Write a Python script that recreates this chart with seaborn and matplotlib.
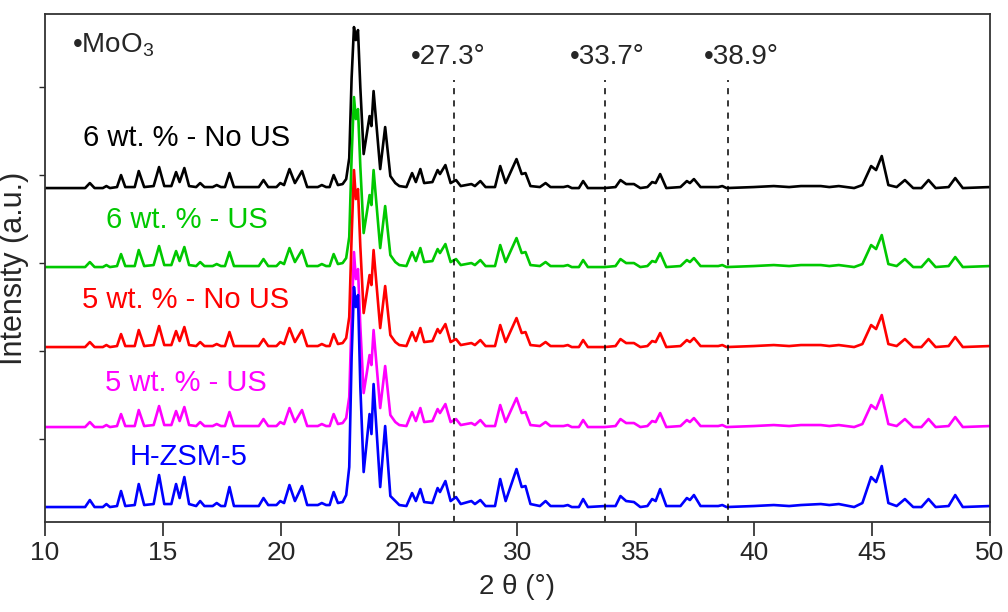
import matplotlib
matplotlib.use("Agg")
import matplotlib.pyplot as plt
import numpy as np
import pandas as pd
import seaborn as sns

# 2 theta positions of the points (peak tops and feet)
two_theta = [10.0, 11.7, 11.9, 12.1, 12.45, 12.6, 12.75, 13.05, 13.22, 13.4,
             13.8, 13.97, 14.2, 14.6, 14.83, 15.05, 15.35, 15.55, 15.7, 15.9,
             16.1, 16.4, 16.57, 16.75, 17.1, 17.27, 17.45, 17.62, 17.81, 18.0,
             19.05, 19.25, 19.45, 19.8, 19.96, 20.12, 20.35, 20.58, 20.88, 21.1,
             21.55, 21.72, 21.9, 22.05, 22.22, 22.4, 22.6, 22.75, 22.88, 22.98,
             23.08, 23.16, 23.25, 23.35, 23.49, 23.74, 23.82, 23.91, 24.19, 24.4,
             24.62, 24.83, 25.0, 25.3, 25.54, 25.7, 25.89, 26.05, 26.4, 26.62,
             26.72, 26.95, 27.17, 27.4, 27.6, 28.05, 28.2, 28.43, 28.65, 29.05,
             29.27, 29.5, 29.96, 30.18, 30.34, 30.55, 30.95, 31.19, 31.4, 31.95,
             32.13, 32.3, 32.6, 32.78, 32.98, 33.7, 34.15, 34.36, 34.6, 34.93,
             35.2, 35.5, 35.7, 35.85, 36.04, 36.3, 36.9, 37.17, 37.3, 37.47,
             37.75, 38.5, 38.67, 38.85, 40.0, 40.85, 41.5, 42.0, 42.84, 43.2,
             43.6, 44.25, 44.6, 44.97, 45.18, 45.42, 45.7, 46.05, 46.4, 46.75,
             47.1, 47.4, 47.7, 48.25, 48.53, 48.85, 50.0]

# parent zeolite
hzsm5 = [0, 0, 7, 0, 0, 3, 0, 1, 16, 1,
         2, 23, 2, 3, 32, 3, 3, 23, 9, 30,
         3, 1, 6, 1, 1, 4, 1, 1, 20, 1,
         1, 9, 2, 2, 6, 4, 22, 6, 21, 2,
         2, 4, 2, 2, 15, 4, 5, 12, 40, 150,
         220, 200, 212, 120, 35, 93, 73, 123, 20, 81,
         11, 6, 2, 1, 14, 6, 18, 5, 4, 19,
         15, 26, 6, 10, 3, 6, 3, 7, 1, 1,
         28, 6, 38, 20, 21, 3, 1, 6, 1, 1,
         2, 0, 0, 8, 0, 1, 1, 11, 6, 5,
         0, 1, 8, 6, 18, 1, 1, 9, 7, 12,
         1, 1, 2, 0, 1, 2, 1, 2, 3, 2,
         3, 0, 4, 30, 25, 41, 4, 1, 8, 0,
         0, 8, 0, 1, 12, 0, 1]

# MoO3 loaded samples, same pattern within reading precision
loaded = [0, 0, 5, 0, 0, 2, 0, 1, 13, 1,
          1, 17, 1, 2, 21, 2, 2, 16, 6, 20,
          2, 1, 5, 1, 1, 3, 1, 1, 15, 1,
          1, 8, 1, 1, 5, 3, 19, 5, 17, 1,
          1, 3, 1, 1, 13, 3, 4, 9, 30, 110,
          161, 148, 158, 100, 34, 72, 62, 97, 19, 61,
          12, 5, 2, 1, 15, 6, 19, 5, 6, 18,
          14, 23, 5, 8, 2, 4, 2, 7, 1, 1,
          22, 5, 29, 14, 15, 2, 1, 5, 1, 1,
          2, 0, 0, 7, 0, 0, 1, 8, 4, 4,
          0, 1, 6, 5, 14, 0, 1, 7, 5, 9,
          1, 1, 2, 0, 1, 2, 1, 2, 2, 1,
          2, 0, 3, 22, 18, 32, 3, 1, 8, 0,
          0, 8, 0, 1, 10, 0, 1]

# height of the strongest reflection (23.1°) for each loaded sample
main_top = {"6 wt. % - No US": 161, "6 wt. % - US": 170,
            "5 wt. % - No US": 177, "5 wt. % - US": 175}

samples = ["5 wt. % - US", "6 wt. % - No US", "6 wt. % - US", "5 wt. % - No US", "H-ZSM-5"]
offsets = [80, 319, 240, 160, 0]
colors = ["#ff00ff", "#000000", "#00c800", "#ff0000", "#0000ff"]
label_pos = [(12.55, 124), (11.6, 369), (12.6, 287), (11.55, 207), (13.6, 50)]

moo3_lines = [27.3, 33.7, 38.9]
moo3_label_x = [25.47, 32.2, 37.88]

i_main = two_theta.index(23.08)
rows = []
for name, off in zip(samples, offsets):
    vals = list(hzsm5) if name == "H-ZSM-5" else list(loaded)
    if name in main_top:
        vals[i_main] = main_top[name]
    for t, v in zip(two_theta, vals):
        rows.append({"two_theta": t, "intensity": v + off, "sample": name})
df = pd.DataFrame(rows)

sns.set_theme(style="white")
plt.rcParams["font.family"] = ["Liberation Sans", "DejaVu Sans"]
plt.rcParams["mathtext.fontset"] = "custom"
plt.rcParams["mathtext.rm"] = "Liberation Sans"

fig = plt.figure(figsize=(10.08, 6.12), dpi=100)
ax = fig.add_axes([0.0446, 0.147, 0.9375, 0.830])

sns.lineplot(data=df, x="two_theta", y="intensity", hue="sample", hue_order=samples,
             palette=colors, sort=False, estimator=None, legend=False, linewidth=1.9,
             solid_joinstyle="round", ax=ax)

ax.vlines(moo3_lines, -15, 427, colors="black", linestyles=(0, (4, 4)), linewidth=1.1)
for pos, lx in zip(moo3_lines, moo3_label_x):
    ax.text(lx, 450, "•%.1f°" % pos, fontsize=20, va="center", ha="left")
ax.text(11.15, 462, "•MoO$_3$", fontsize=20, va="center", ha="left")

for name, col, (lx, ly) in zip(samples, colors, label_pos):
    ax.text(lx, ly, name, color=col, fontsize=21, va="center", ha="left")

ax.set_xlim(10, 50)
ax.set_ylim(-15, 493)
ax.set_xticks(np.arange(10, 51, 5))
ax.set_yticks(np.arange(68, 493, 88))
ax.set_yticklabels([])
ax.tick_params(axis="x", direction="out", length=10, width=1.2, labelsize=19, pad=4, bottom=True)
ax.tick_params(axis="y", direction="out", length=4, width=1, left=True)
ax.set_xlabel("2 θ (°)", fontsize=20, labelpad=6)
ax.set_ylabel("Intensity (a.u.)", fontsize=22, labelpad=4)
for sp in ax.spines.values():
    sp.set_color("#333333")
    sp.set_linewidth(1.3)

fig.savefig("out.png", dpi=100)
